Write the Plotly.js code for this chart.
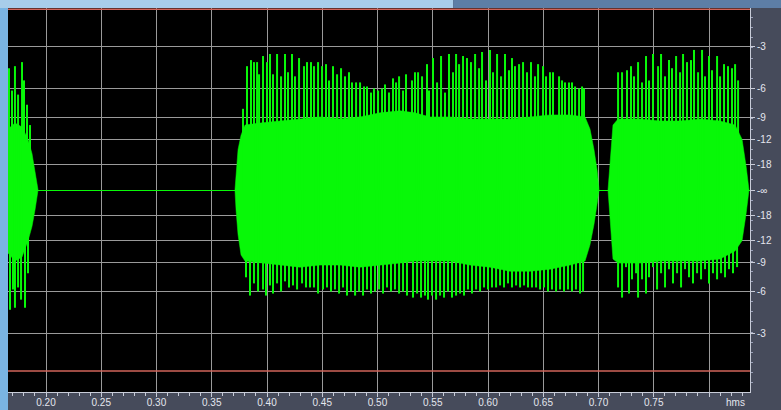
<!DOCTYPE html>
<html><head><meta charset="utf-8">
<script src="https://cdn.plot.ly/plotly-3.0.1.min.js"></script>
<style>html,body{margin:0;padding:0;background:#464b5b;}#chart{width:781px;height:410px;}</style>
</head><body><div id="chart"></div>
<script>
// time axis ticks (seconds)
const xTickVals = [0.20,0.25,0.30,0.35,0.40,0.45,0.50,0.55,0.60,0.65,0.70,0.75,0.80];
const xTickText = ['0.20','0.25','0.30','0.35','0.40','0.45','0.50','0.55','0.60','0.65','0.70','0.75',''];
// amplitude axis ticks (linear amplitude, labelled in dB)
const yTickVals = [0.708,0.501,0.355,0.251,0.126,0,-0.126,-0.251,-0.355,-0.501,-0.708];
const yTickText = ['-3','-6','-9','-12','-18','-\u221e','-18','-12','-9','-6','-3'];
const clipLevel = 0.891; // -1 dB markers

// left burst
const leftEnvT = [0.1656,0.1719,0.1783,0.1837,0.1873,0.1900,0.1928];
const leftEnvHi = [0.30,0.33,0.31,0.25,0.18,0.10,0];
const leftEnvLo = [-0.31,-0.35,-0.33,-0.25,-0.18,-0.10,0];
const leftTopT = [0.1665,0.1692,0.1719,0.1747,0.1783,0.1801,0.1828,0.1855];
const leftTopA = [0.60,0.49,0.61,0.47,0.63,0.54,0.42,0.32];
const leftBotT = [0.1674,0.1701,0.1719,0.1747,0.1774,0.1810,0.1837];
const leftBotA = [-0.59,-0.49,-0.58,-0.48,-0.54,-0.58,-0.41];

// main burst
const mainEnvT = [0.3710,0.3720,0.3738,0.3765,0.3801,0.3937,0.4118,0.4299,0.4480,0.4661,0.4842,0.5023,0.5204,0.5339,0.5475,0.5656,0.5837,0.6018,0.6199,0.6380,0.6561,0.6742,0.6878,0.6923,0.6959,0.6987,0.7005];
const mainEnvHi = [0,0.09,0.20,0.27,0.32,0.33,0.34,0.35,0.36,0.35,0.36,0.38,0.39,0.38,0.36,0.36,0.35,0.35,0.35,0.36,0.37,0.37,0.36,0.30,0.20,0.10,0];
const mainEnvLo = [0,-0.10,-0.22,-0.32,-0.35,-0.36,-0.37,-0.38,-0.37,-0.37,-0.38,-0.37,-0.36,-0.35,-0.35,-0.35,-0.37,-0.38,-0.40,-0.40,-0.39,-0.37,-0.35,-0.27,-0.17,-0.07,0];
const mainTopT = [0.3783,0.3819,0.3855,0.3882,0.3910,0.3928,0.3964,0.4000,0.4027,0.4054,
0.4091,0.4127,0.4163,0.4190,0.4226,0.4253,0.4290,0.4335,0.4362,0.4398,
0.4425,0.4462,0.4498,0.4534,0.4561,0.4597,0.4634,0.4670,0.4706,0.4742,
0.4769,0.4806,0.4842,0.4878,0.4905,0.4941,0.4968,0.5005,0.5041,0.5068,
0.5104,0.5140,0.5168,0.5195,0.5231,0.5258,
0.5312,0.5339,0.5367,0.5403,0.5448,0.5466,0.5502,0.5539,0.5575,0.5611,
0.5647,0.5683,0.5711,0.5738,0.5774,0.5810,0.5846,0.5883,0.5919,0.5946,
0.5982,0.6018,0.6045,0.6082,0.6118,0.6154,0.6190,0.6217,0.6244,0.6281,
0.6317,0.6353,0.6389,0.6425,0.6453,0.6498,0.6525,0.6561,0.6588,0.6643,
0.6670,0.6697,0.6733,0.6760,0.6788,0.6824,0.6851,0.6869];
const mainTopA = [0.40,0.61,0.64,0.63,0.63,0.57,0.66,0.63,0.67,0.57,
0.67,0.56,0.67,0.58,0.67,0.56,0.65,0.61,0.63,0.63,
0.61,0.63,0.61,0.62,0.54,0.61,0.57,0.60,0.56,0.58,
0.53,0.53,0.53,0.51,0.51,0.48,0.50,0.49,0.50,0.52,
0.48,0.55,0.53,0.56,0.49,0.57,
0.54,0.58,0.58,0.56,0.62,0.49,0.65,0.53,0.66,0.48,
0.67,0.58,0.67,0.62,0.66,0.65,0.63,0.67,0.60,0.68,
0.54,0.69,0.58,0.67,0.56,0.67,0.59,0.65,0.61,0.62,
0.63,0.58,0.63,0.56,0.62,0.61,0.56,0.58,0.58,0.56,
0.54,0.53,0.53,0.53,0.51,0.50,0.51,0.50];
const mainBotT = [0.3810,0.3846,0.3882,0.3919,0.3964,0.3991,0.4027,0.4054,0.4091,0.4127,
0.4163,0.4199,0.4235,0.4272,0.4317,0.4353,0.4389,0.4425,0.4462,0.4507,
0.4543,0.4579,0.4615,0.4652,0.4688,0.4724,0.4760,0.4797,0.4833,0.4869,
0.4905,0.4941,0.4977,0.5014,0.5050,0.5086,0.5122,0.5158,0.5195,0.5231,
0.5267,
0.5321,0.5358,0.5394,0.5430,0.5457,0.5493,0.5530,0.5566,0.5602,0.5638,
0.5674,0.5711,0.5747,0.5783,0.5819,0.5855,0.5892,0.5928,0.5964,0.6000,
0.6036,0.6073,0.6109,0.6145,0.6181,0.6217,0.6254,0.6290,0.6326,0.6362,
0.6398,0.6435,0.6471,0.6507,0.6543,0.6579,0.6616,0.6652,0.6688,0.6724,
0.6760,0.6796,0.6833,0.6860];
const mainBotA = [-0.43,-0.52,-0.46,-0.50,-0.49,-0.52,-0.47,-0.51,-0.46,-0.50,
-0.45,-0.48,-0.47,-0.49,-0.46,-0.48,-0.48,-0.48,-0.51,-0.49,
-0.48,-0.50,-0.49,-0.51,-0.48,-0.52,-0.50,-0.52,-0.50,-0.52,
-0.49,-0.51,-0.50,-0.49,-0.51,-0.48,-0.50,-0.49,-0.51,-0.50,
-0.52,
-0.53,-0.51,-0.53,-0.52,-0.54,-0.52,-0.54,-0.52,-0.53,-0.50,
-0.53,-0.52,-0.51,-0.52,-0.49,-0.51,-0.49,-0.50,-0.48,-0.49,
-0.48,-0.48,-0.47,-0.48,-0.46,-0.48,-0.47,-0.48,-0.47,-0.48,
-0.48,-0.48,-0.49,-0.48,-0.50,-0.49,-0.50,-0.49,-0.50,-0.49,
-0.50,-0.49,-0.51,-0.50];

// right burst
const rightEnvT = [0.7086,0.7104,0.7131,0.7177,0.7376,0.7557,0.7738,0.7919,0.8100,0.8236,0.8299,0.8335,0.8362];
const rightEnvHi = [0,0.15,0.32,0.35,0.35,0.34,0.34,0.35,0.34,0.32,0.25,0.12,0];
const rightEnvLo = [0,-0.15,-0.34,-0.36,-0.36,-0.35,-0.35,-0.35,-0.34,-0.30,-0.25,-0.12,0];
const rightTopT = [0.7177,0.7213,0.7258,0.7294,0.7321,0.7358,0.7394,0.7430,0.7457,0.7493,0.7539,0.7566,0.7602,0.7638,0.7665,0.7702,0.7738,0.7765,0.7801,0.7837,0.7864,0.7901,0.7937,0.7964,0.8000,0.8027,0.8073,0.8100,0.8136,0.8172,0.8208,0.8236,0.8263];
const rightTopA = [0.58,0.58,0.59,0.61,0.56,0.63,0.53,0.66,0.54,0.67,0.61,0.67,0.56,0.64,0.60,0.66,0.58,0.67,0.63,0.64,0.69,0.58,0.69,0.56,0.66,0.59,0.66,0.56,0.62,0.61,0.60,0.62,0.54];
const rightBotT = [0.7177,0.7213,0.7249,0.7276,0.7303,0.7340,0.7358,0.7394,0.7430,0.7457,0.7493,0.7530,0.7566,0.7602,0.7638,0.7674,0.7711,0.7747,0.7783,0.7819,0.7855,0.7892,0.7928,0.7964,0.8000,0.8036,0.8073,0.8109,0.8145,0.8181,0.8217,0.8254];
const rightBotA = [-0.48,-0.53,-0.38,-0.51,-0.44,-0.41,-0.53,-0.44,-0.51,-0.43,-0.38,-0.49,-0.41,-0.48,-0.39,-0.46,-0.41,-0.48,-0.39,-0.43,-0.46,-0.41,-0.44,-0.39,-0.46,-0.41,-0.44,-0.41,-0.43,-0.39,-0.41,-0.38];

const GREEN = '#08f808';

function envPoly(ts, hi, lo) {
  return {type:'scatter', mode:'lines', x: ts.concat(ts.slice().reverse()), y: hi.concat(lo.slice().reverse()),
    fill:'toself', fillcolor: GREEN, line:{width:0.5, color: GREEN}, hoverinfo:'skip', showlegend:false};
}
function spikes(ts, as) {
  const x = [], y = [];
  for (let i = 0; i < ts.length; i++) { x.push(ts[i], ts[i], null); y.push(0, as[i], null); }
  return {type:'scatter', mode:'lines', x, y, line:{width:2, color: GREEN}, hoverinfo:'skip', showlegend:false, connectgaps:false};
}

const traces = [
  envPoly(leftEnvT, leftEnvHi, leftEnvLo),
  envPoly(mainEnvT, mainEnvHi, mainEnvLo),
  envPoly(rightEnvT, rightEnvHi, rightEnvLo),
  spikes(leftTopT, leftTopA), spikes(leftBotT, leftBotA),
  spikes(mainTopT, mainTopA), spikes(mainBotT, mainBotA),
  spikes(rightTopT, rightTopA), spikes(rightBotT, rightBotA)
];

const tickFont = {family:'Liberation Sans, Arial, sans-serif', size:10, color:'#e4e6ee'};
const layout = {
  width:781, height:410,
  margin:{l:8, r:31, t:8, b:18, pad:0},
  paper_bgcolor:'#464b5b', plot_bgcolor:'#000000',
  showlegend:false,
  xaxis:{range:[0.1656,0.8371], tickmode:'array', tickvals:xTickVals, ticktext:xTickText,
    showgrid:true, gridcolor:'#9a9a9a', gridwidth:1, zeroline:false,
    showline:true, linecolor:'#c8ccd8', linewidth:1, mirror:false,
    ticks:'outside', ticklen:4, tickcolor:'#c8ccd8', tickfont:tickFont, ticklabelstandoff:-3,
    minor:{tickmode:'linear', tick0:0.2, dtick:0.01, ticks:'outside', ticklen:3, tickcolor:'#c8ccd8', showgrid:false},
    fixedrange:true},
  yaxis:{range:[-0.995,0.8966], side:'right', tickmode:'array', tickvals:yTickVals, ticktext:yTickText,
    showgrid:true, gridcolor:'#9a9a9a', gridwidth:1,
    zeroline:true, zerolinecolor:GREEN, zerolinewidth:1,
    showline:true, linecolor:'#c8ccd8', linewidth:1,
    ticks:'outside', ticklen:4, tickcolor:'#c8ccd8', tickfont:tickFont,
    minor:{tickmode:'linear', tick0:0, dtick:0.05, ticks:'outside', ticklen:2, tickcolor:'#9aa0b8', showgrid:false},
    fixedrange:true},
  shapes:[
    {type:'line', xref:'paper', yref:'y', x0:0, x1:1, y0:clipLevel, y1:clipLevel, line:{color:'#d0645a', width:1.5}},
    {type:'line', xref:'paper', yref:'y', x0:0, x1:1, y0:-clipLevel, y1:-clipLevel, line:{color:'#d0645a', width:1.5}},
    {type:'rect', xref:'paper', yref:'paper', x0:-0.0108, x1:0, y0:-0.047, y1:1.021, fillcolor:'#7ab4e2', line:{width:0}, layer:'below'},
    {type:'rect', xref:'paper', yref:'paper', x0:-0.0108, x1:0.6, y0:1, y1:1.021, fillcolor:'#a8cdea', line:{width:0}, layer:'below'},
    {type:'rect', xref:'paper', yref:'paper', x0:0.6, x1:1.042, y0:1, y1:1.021, fillcolor:'#5d7ea6', line:{width:0}, layer:'below'}
  ],
  annotations:[
    {xref:'paper', yref:'paper', x:0.98, y:-0.028, text:'hms', showarrow:false, font:tickFont, xanchor:'center', yanchor:'middle'}
  ]
};

Plotly.newPlot('chart', traces, layout, {displayModeBar:false, staticPlot:true});
</script>
</body></html>
